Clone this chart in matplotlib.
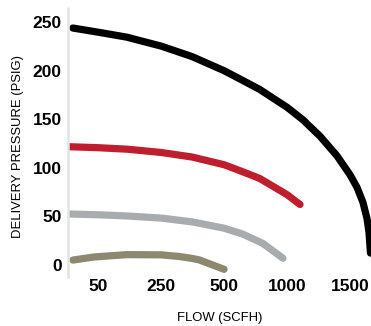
import numpy as np
import matplotlib
matplotlib.use("Agg")
import matplotlib.pyplot as plt

# flow tick labels sit at evenly spaced slots on the axis
flow_ticks = [50, 250, 500, 1000, 1500]
pressure_ticks = [0, 50, 100, 150, 200, 250]

# piecewise scale: flow value -> slot
scale_flow = [0, 50, 250, 500, 1000, 1500, 2000]
scale_slot = [-0.48, 0, 1, 2, 3, 4, 5]

# curves (flow in SCFH, pressure in PSIG)
black_flow = [8, 50, 141, 250, 373, 500, 645, 782, 887, 1000, 1127, 1262, 1397,
              1500, 1556, 1603, 1635, 1651, 1659, 1663]
black_psig = [243.8, 239.5, 234.4, 225.2, 214.4, 199.9, 190.1, 180.7, 171.8, 162.3,
              149.3, 132.5, 112.3, 92.9, 79.9, 64.5, 48, 33.6, 19.2, 12.3]

red_flow = [3, 50, 141, 250, 373, 500, 645, 782, 887, 1000, 1103]
red_psig = [121.7, 120.7, 119.2, 115.8, 111.1, 103.2, 96.1, 89.1, 81.1, 72.4, 62.3]

gray_flow = [3, 50, 141, 250, 373, 500, 645, 806, 887, 968]
gray_psig = [52.5, 51.7, 50.5, 48.3, 44.4, 37.9, 32.0, 22.4, 14.7, 7.0]

olive_flow = [8, 42, 50, 141, 250, 321, 373, 401, 449, 500]
olive_psig = [5.1, 8.2, 8.6, 10.7, 10.5, 8.8, 6.8, 5.3, 0.6, -4.4]


def fwd(x):
    return np.interp(x, scale_flow, scale_slot)


def inv(s):
    return np.interp(s, scale_slot, scale_flow)


fig = plt.figure(figsize=(3.71, 3.26), dpi=100)
ax = fig.add_axes([68 / 371, 1 - 277 / 326, 1 - 68 / 371, 269 / 326])
ax.set_xscale("function", functions=(fwd, inv))

lw = 5.2
for xs, ys, col in [(black_flow, black_psig, "#000000"),
                    (red_flow, red_psig, "#be1e2d"),
                    (gray_flow, gray_psig, "#a9acaf"),
                    (olive_flow, olive_psig, "#8d8870")]:
    ax.plot(xs, ys, color=col, lw=lw, solid_capstyle="round",
            solid_joinstyle="round")

ax.set_xlim(0, 1667)
ax.set_ylim(-12.3, 264.4)
ax.set_xticks(flow_ticks)
ax.set_xticklabels([str(v) for v in flow_ticks])
ax.set_yticks(pressure_ticks)
ax.set_yticklabels([str(v) for v in pressure_ticks])
ax.tick_params(length=0, labelsize=12.5)
ax.tick_params(axis="y", pad=4.5)
ax.tick_params(axis="x", pad=1.5)
for lab in ax.get_xticklabels() + ax.get_yticklabels():
    lab.set_fontfamily(["Liberation Sans", "DejaVu Sans"])
    lab.set_fontweight("bold")

for side in ["top", "right", "bottom"]:
    ax.spines[side].set_visible(False)
ax.spines["left"].set_color("#e4e4e4")
ax.spines["left"].set_linewidth(1.8)

label_font = dict(family=["Liberation Sans Narrow", "Liberation Sans", "DejaVu Sans"], size=9.4)
ax.set_xlabel("FLOW (SCFH)", **label_font)
ax.set_ylabel("DELIVERY PRESSURE (PSIG)", **label_font)
ax.xaxis.set_label_coords((220 - 68) / 303, (277 - 318) / 269)
ax.xaxis.label.set_va("center")
ax.yaxis.set_label_coords((18 - 68) / 303, (277 - 147) / 269)
ax.yaxis.label.set_va("center")

fig.savefig("out.png", dpi=100)
